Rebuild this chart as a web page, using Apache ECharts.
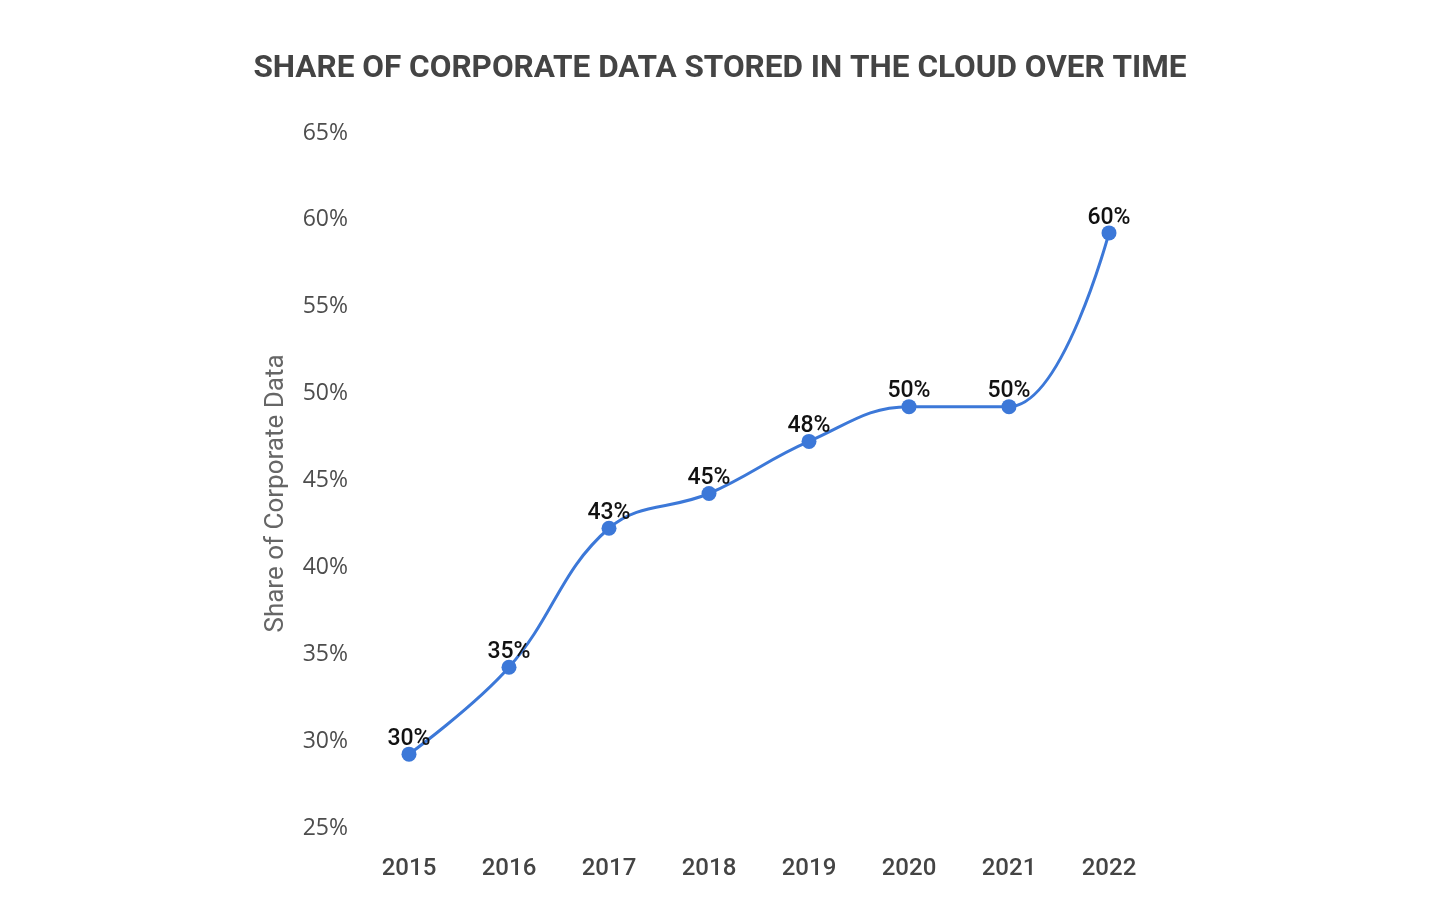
<!DOCTYPE html>
<html><head><meta charset="utf-8">
<script src="https://cdn.jsdelivr.net/npm/echarts@6/dist/echarts.min.js"></script>
<style>html,body{margin:0;padding:0;background:#fff}#c{width:1440px;height:920px}</style>
</head><body><div id="c"></div>
<script>
const years = ['2015','2016','2017','2018','2019','2020','2021','2022'];
const shareValues = [30, 35, 43, 45, 48, 50, 50, 60];
const yTicks = { min: 25, max: 65, interval: 5 };
const chart = echarts.init(document.getElementById('c'));
chart.setOption({
  animation: false,
  title: {
    text: 'SHARE OF CORPORATE DATA STORED IN THE CLOUD OVER TIME',
    left: 'center', top: 48,
    textStyle: { fontFamily: 'Roboto', fontWeight: 'bold', fontSize: 31.5, color: '#444' }
  },
  grid: { left: 359, right: 281, top: 146, bottom: 79 },
  xAxis: {
    type: 'category', data: years, boundaryGap: true,
    axisLine: { show: false }, axisTick: { show: false },
    axisLabel: { margin: 16, fontFamily: 'Roboto', fontWeight: 500, fontSize: 24, color: '#444' }
  },
  yAxis: {
    type: 'value', min: yTicks.min, max: yTicks.max, interval: yTicks.interval,
    name: 'Share of Corporate Data', nameLocation: 'middle', nameGap: 70,
    nameTextStyle: { fontFamily: 'Roboto', fontSize: 26, color: '#666' },
    splitLine: { show: false }, axisLine: { show: false }, axisTick: { show: false },
    axisLabel: { margin: 11, fontFamily: 'Open Sans', fontSize: 23, color: '#4d4d4d',
      formatter: v => v + '%', verticalAlign: 'bottom', lineHeight: 26 }
  },
  series: [{
    type: 'line', data: shareValues, smooth: 0.4,
    symbol: 'circle', symbolSize: 15,
    lineStyle: { color: '#3c78d8', width: 3 },
    itemStyle: { color: '#3c78d8' },
    label: { show: true, position: 'top', distance: -4, formatter: p => p.value + '%',
      fontFamily: 'Roboto', fontWeight: 500, fontSize: 23, color: '#111' }
  }]
});
</script></body></html>
